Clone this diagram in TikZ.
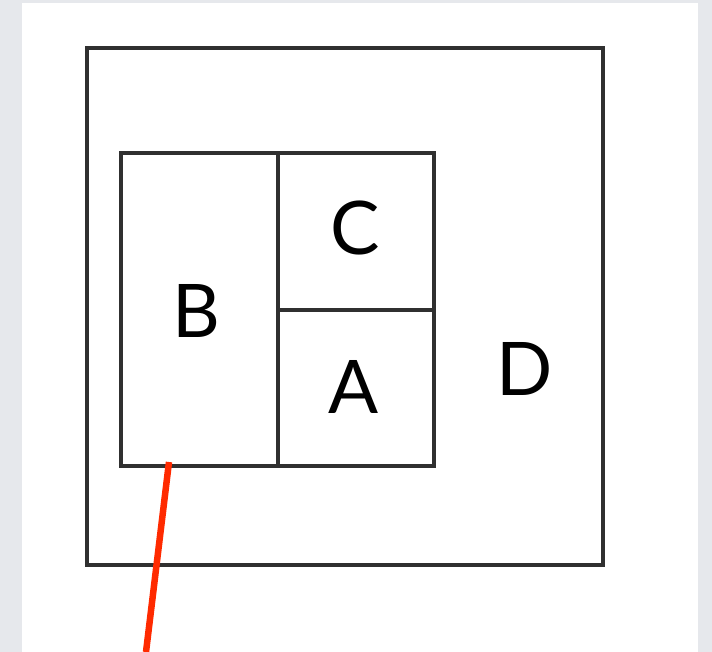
\documentclass[tikz,border=0pt]{standalone}
\usepackage{fontspec}
\setmainfont{Lato}
\definecolor{bg}{HTML}{E6E8EC}
\definecolor{ln}{HTML}{303030}
\definecolor{redl}{HTML}{FF2A00}
\begin{document}
\begin{tikzpicture}[x=1pt,y=-1pt,
  box/.style={draw=ln,line width=3.5pt,line join=miter},
  lab/.style={font=\fontsize{74}{74}\selectfont,text=black,inner sep=0pt,anchor=center},
  pointer/.style={draw=redl,line width=6.5pt}]
\useasboundingbox (0,0) rectangle (712,652);
\fill[bg] (0,0) rectangle (712,652);
\fill[white] (22,3) rectangle (698,652);
% outer D square
\draw[box] (87,48) rectangle (603,565);
% inner rectangle
\draw[box] (121,153) rectangle (434,466);
\draw[box] (278,153) -- (278,466);
\draw[box] (278,310) -- (434,310);
% labels
\node[lab] (B) at (196,311) {B};
\node[lab] (C) at (355,228) {C};
\node[lab] (A) at (354,387) {A};
\node[lab] (D) at (525,369) {D};
% red pointer
\coordinate (p1) at (169,462);
\coordinate (p2) at (146,652);
\draw[pointer] (p1) -- (p2);
\end{tikzpicture}
\end{document}
